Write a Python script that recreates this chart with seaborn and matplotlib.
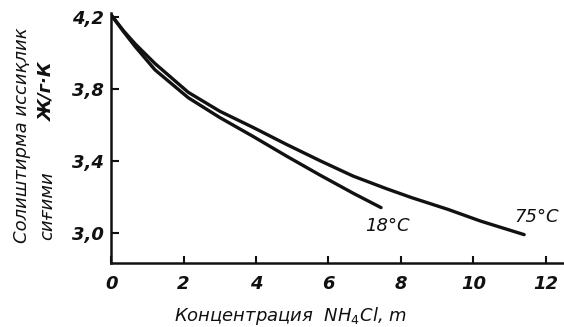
import matplotlib
matplotlib.use("Agg")
import matplotlib.pyplot as plt
import seaborn as sns
import pandas as pd

# Data
x_18 = [0.0, 0.35, 0.66, 1.21, 2.13, 3.0, 3.92, 4.85, 5.77, 6.68, 7.45]
y_18 = [4.21, 4.115, 4.035, 3.905, 3.75, 3.64, 3.535, 3.425, 3.32, 3.22, 3.14]
x_75 = [0.0, 0.35, 0.66, 1.21, 2.13, 3.0, 3.92, 4.85, 5.77, 6.68, 7.6, 8.3, 9.3, 10.2, 11.4]
y_75 = [4.21, 4.12, 4.05, 3.94, 3.78, 3.675, 3.585, 3.49, 3.40, 3.315, 3.245, 3.195, 3.13, 3.065, 2.99]
series_names = ["18°C", "75°C"]
x_ticks = [0, 2, 4, 6, 8, 10, 12]
x_ticklabels = ["0", "2", "4", "6", "8", "10", "12"]
y_ticks = [3.0, 3.4, 3.8, 4.2]
y_ticklabels = ["3,0", "3,4", "3,8", "4,2"]
xlabel = "Концентрация  NH$_4$Cl, m"
ylabel_line1 = "Солиштирма иссиқлик"
ylabel_line2a = "сиғими"
ylabel_line2b = "Ж/г·К"

df = pd.concat([
    pd.DataFrame({"x": x_18, "y": y_18, "s": series_names[0]}),
    pd.DataFrame({"x": x_75, "y": y_75, "s": series_names[1]}),
], ignore_index=True)

sns.set_theme(style="white")
plt.rcParams["font.family"] = ["DejaVu Sans"]

fig = plt.figure(figsize=(5.64, 3.27), dpi=100)
ax = fig.add_axes([0.197, 0.196, 0.803, 0.764])

sns.lineplot(data=df, x="x", y="y", hue="s", estimator=None, sort=False,
             palette=["#111111", "#111111"], linewidth=2.4, legend=False, ax=ax,
             solid_joinstyle="round", solid_capstyle="round")

ax.set_xlim(0, 12.5)
ax.set_ylim(2.833, 4.22)

for side in ["top", "right"]:
    ax.spines[side].set_visible(False)
for side in ["left", "bottom"]:
    ax.spines[side].set_color("#111111")
    ax.spines[side].set_linewidth(1.8)

tfont = dict(fontsize=13, fontstyle="italic", fontweight="bold", color="#111111")
ax.set_xticks(x_ticks)
ax.set_xticklabels(x_ticklabels, **tfont)
ax.set_yticks(y_ticks)
ax.set_yticklabels(y_ticklabels, **tfont)
ax.tick_params(axis="x", bottom=True, direction="in", length=5, width=1.5, pad=9, colors="#111111")
ax.tick_params(axis="y", left=True, direction="in", length=6, width=1.5, pad=5, colors="#111111")
ax.set_xlabel("")
ax.set_ylabel("")

lfont = dict(fontsize=13, fontstyle="italic", color="#111111")
fig.text(290 / 564, 1 - 316 / 327, xlabel, ha="center", va="center", **lfont)
fig.text(22 / 564, 1 - 135 / 327, ylabel_line1, rotation=90, ha="center", va="center", **lfont)
fig.text(47 / 564, 1 - 206 / 327, ylabel_line2a, rotation=90, ha="center", va="center", **lfont)
fig.text(47 / 564, 1 - 92 / 327, ylabel_line2b, rotation=90, ha="center", va="center",
         fontsize=13, fontstyle="italic", fontweight="bold", color="#111111")

ax.text(7.64, 3.04, series_names[0], ha="center", va="center", **lfont)
ax.text(11.75, 3.09, series_names[1], ha="center", va="center", **lfont)

fig.savefig("out.png", dpi=100, facecolor="white")
